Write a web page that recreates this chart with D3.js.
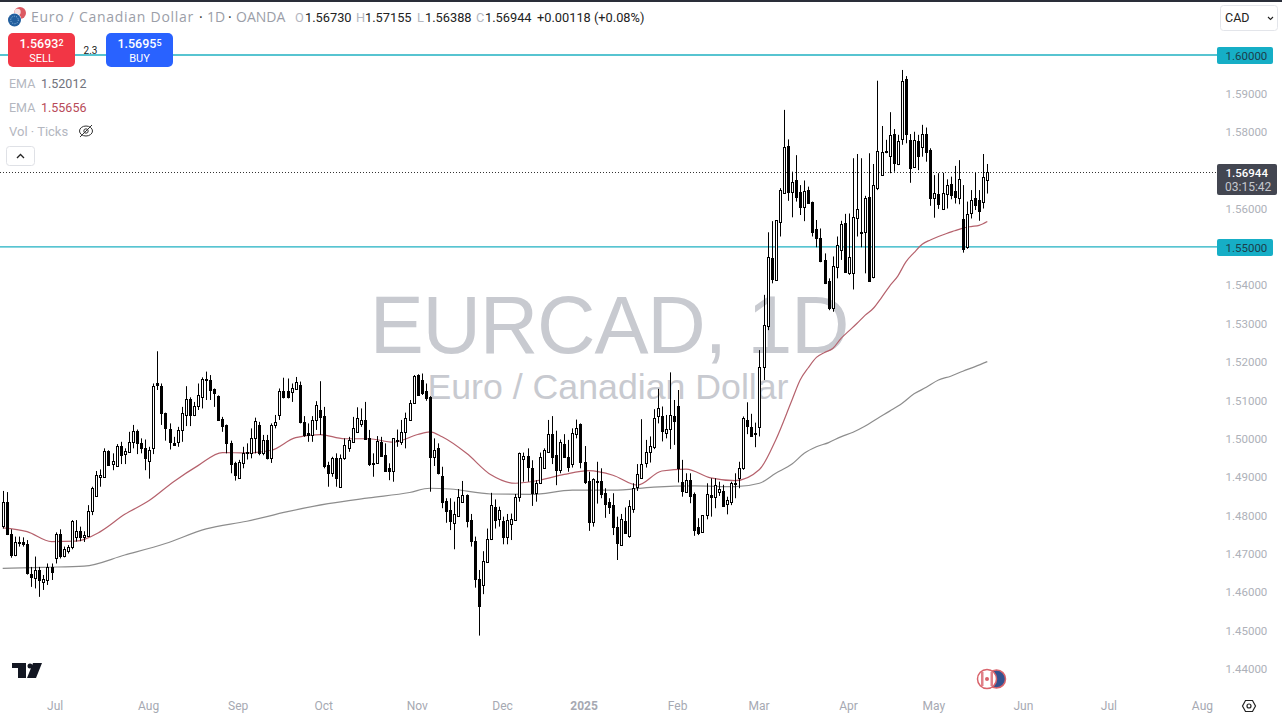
<!DOCTYPE html>
<html>
<head>
<meta charset="utf-8">
<title>EURCAD 1D</title>
<script src="https://cdn.jsdelivr.net/npm/d3@7"></script>
<style>
    html, body { margin: 0; padding: 0; background: #fff; }
    svg { display: block; }
    text { font-family: Roboto, "Liberation Sans", sans-serif; }
</style>
</head>
<body>
<svg id="drawing_region"></svg>
<script>
// daily bars
const opens = [
1.4772,1.4834,1.4752,1.4697,1.4731,1.4731,1.4725,1.4647,1.4636,1.4658,
1.4628,1.4633,1.4665,1.4688,1.4752,1.4694,1.4708,1.4717,1.4743,1.4759,
1.4745,1.4746,1.4812,1.4851,1.4901,1.4901,1.4968,1.4935,1.4930,1.4981,
1.4959,1.4966,1.4992,1.5021,1.4989,1.4977,1.4943,1.4975,1.5144,1.5137,
1.5066,1.5026,1.4990,1.4992,1.5023,1.5061,1.5104,1.5062,1.5085,1.5109,
1.5155,1.5153,1.5129,1.5111,1.5051,1.5036,1.4989,1.4936,1.4898,1.4936,
1.4964,1.4964,1.5001,1.5037,1.4962,1.4998,1.4949,1.5037,1.5062,1.5124,
1.5124,1.5121,1.5129,1.5140,1.5044,1.5014,1.5010,1.5050,1.5075,1.5059,
1.4931,1.4911,1.4949,1.4875,1.4949,1.4977,1.4992,1.5018,1.5038,1.5049,
1.5003,1.4938,1.4937,1.4991,1.4957,1.4923,1.4917,1.4997,1.4991,1.5017,
1.5049,1.5092,1.5166,1.5153,1.5124,1.5108,1.4953,1.4975,1.4903,1.4837,
1.4814,1.4781,1.4800,1.4834,1.4853,1.4787,1.4733,1.4634,1.4619,1.4678,
1.4739,1.4823,1.4790,1.4785,1.4745,1.4778,1.4788,1.4849,1.4946,1.4955,
1.4923,1.4858,1.4884,1.4925,1.4966,1.5012,1.4957,1.4918,1.4986,1.4953,
1.4934,1.5012,1.5038,1.4939,1.4889,1.4784,1.4891,1.4890,1.4859,1.4834,
1.4827,1.4770,1.4724,1.4785,1.4747,1.4817,1.4873,1.4899,1.4937,1.4966,
1.4979,1.5058,1.5058,1.5016,1.5025,1.5059,1.5085,1.4886,1.4862,1.4893,
1.4856,1.4771,1.4758,1.4801,1.4853,1.4849,1.4860,1.4864,1.4829,1.4834,
1.4882,1.4899,1.4925,1.5049,1.5030,1.5014,1.5030,1.5186,1.5294,1.5470,
1.5414,1.5566,1.5641,1.5763,1.5644,1.5674,1.5642,1.5605,1.5648,1.5616,
1.5546,1.5522,1.5466,1.5412,1.5342,1.5447,1.5492,1.5561,1.5431,1.5431,
1.5574,1.5540,1.5538,1.5629,1.5422,1.5653,1.5687,1.5746,1.5738,1.5793,
1.5716,1.5782,1.5937,1.5779,1.5709,1.5776,1.5759,1.5793,1.5752,1.5628,
1.5637,1.5598,1.5637,1.5663,1.5646,1.5627,1.5573,1.5499,1.5589,1.5627,
1.5622,1.5618,1.5673];
const highs = [
1.4864,1.4861,1.4764,1.4745,1.4745,1.4743,1.4736,1.4666,1.4693,1.4666,
1.4645,1.4675,1.4675,1.4756,1.4764,1.4719,1.4723,1.4788,1.4788,1.4771,
1.4759,1.4827,1.4875,1.4916,1.4920,1.4975,1.4970,1.4962,1.4986,1.4992,
1.4975,1.5018,1.5036,1.5024,1.5001,1.4998,1.4979,1.5144,1.5228,1.5144,
1.5068,1.5040,1.5005,1.5031,1.5083,1.5137,1.5108,1.5096,1.5144,1.5160,
1.5175,1.5166,1.5131,1.5113,1.5057,1.5037,1.4995,1.4940,1.4945,1.4979,
1.4988,1.5027,1.5055,1.5044,1.5010,1.5010,1.5040,1.5062,1.5131,1.5159,
1.5157,1.5144,1.5161,1.5149,1.5059,1.5040,1.5059,1.5098,1.5150,1.5083,
1.4940,1.4953,1.4962,1.4959,1.5001,1.5005,1.5057,1.5082,1.5079,1.5096,
1.5023,1.4962,1.5007,1.5005,1.4988,1.4936,1.5001,1.5024,1.5049,1.5068,
1.5101,1.5166,1.5168,1.5170,1.5144,1.5111,1.5001,1.4988,1.4927,1.4845,
1.4845,1.4836,1.4869,1.4890,1.4855,1.4804,1.4745,1.4658,1.4707,1.4766,
1.4859,1.4842,1.4823,1.4797,1.4804,1.4805,1.4856,1.4964,1.4964,1.4975,
1.4944,1.4892,1.4964,1.4975,1.5049,1.5059,1.5021,1.4998,1.5012,1.4997,
1.5027,1.5050,1.5040,1.4981,1.4914,1.4897,1.4940,1.4923,1.4871,1.4845,
1.4858,1.4797,1.4804,1.4821,1.4840,1.4884,1.4934,1.5051,1.4997,1.5006,
1.5077,1.5130,1.5084,1.5062,1.5173,1.5101,1.5127,1.4945,1.4910,1.4910,
1.4860,1.4793,1.4801,1.4884,1.4897,1.4897,1.4888,1.4880,1.4849,1.4888,
1.4910,1.4940,1.5058,1.5095,1.5065,1.5042,1.5231,1.5375,1.5538,1.5567,
1.5570,1.5653,1.5857,1.5780,1.5696,1.5739,1.5661,1.5673,1.5657,1.5618,
1.5570,1.5548,1.5483,1.5418,1.5475,1.5527,1.5568,1.5586,1.5587,1.5731,
1.5742,1.5731,1.5633,1.5744,1.5716,1.5933,1.5815,1.5779,1.5851,1.5807,
1.5792,1.5961,1.5945,1.5794,1.5800,1.5792,1.5818,1.5811,1.5757,1.5687,
1.5692,1.5693,1.5676,1.5683,1.5711,1.5726,1.5661,1.5618,1.5648,1.5693,
1.5648,1.5742,1.5716];
const lows = [
1.4766,1.4749,1.4690,1.4694,1.4719,1.4719,1.4646,1.4614,1.4610,1.4588,
1.4606,1.4619,1.4632,1.4675,1.4688,1.4691,1.4701,1.4712,1.4732,1.4733,
1.4731,1.4745,1.4801,1.4849,1.4875,1.4901,1.4929,1.4918,1.4929,1.4934,
1.4934,1.4964,1.4975,1.4960,1.4962,1.4918,1.4896,1.4960,1.5127,1.5036,
1.4995,1.4972,1.4983,1.4979,1.4992,1.5033,1.5033,1.5059,1.5075,1.5079,
1.5101,1.5101,1.5083,1.5047,1.5018,1.4962,1.4910,1.4891,1.4897,1.4923,
1.4946,1.4949,1.4962,1.4957,1.4957,1.4946,1.4937,1.5027,1.5049,1.5105,
1.5105,1.5096,1.5127,1.5040,1.5005,1.4992,1.4992,1.5023,1.5010,1.4923,
1.4875,1.4901,1.4875,1.4875,1.4945,1.4966,1.4992,1.5016,1.5031,1.4998,
1.4929,1.4901,1.4936,1.4955,1.4914,1.4892,1.4888,1.4979,1.4984,1.4975,
1.5049,1.5092,1.5114,1.5114,1.5099,1.4862,1.4929,1.4907,1.4819,1.4781,
1.4762,1.4712,1.4797,1.4833,1.4769,1.4719,1.4612,1.4487,1.4595,1.4677,
1.4736,1.4766,1.4771,1.4725,1.4725,1.4736,1.4788,1.4836,1.4888,1.4888,
1.4825,1.4836,1.4882,1.4925,1.4966,1.4934,1.4879,1.4910,1.4951,1.4914,
1.4925,1.5001,1.4923,1.4882,1.4760,1.4771,1.4831,1.4845,1.4794,1.4804,
1.4749,1.4684,1.4722,1.4753,1.4742,1.4807,1.4864,1.4899,1.4925,1.4938,
1.4973,1.5040,1.4993,1.5001,1.4973,1.4984,1.4886,1.4849,1.4860,1.4832,
1.4747,1.4749,1.4755,1.4790,1.4797,1.4819,1.4851,1.4825,1.4803,1.4827,
1.4845,1.4871,1.4919,1.5012,1.5006,1.4978,1.5006,1.5153,1.5283,1.5405,
1.5412,1.5527,1.5640,1.5620,1.5577,1.5618,1.5583,1.5567,1.5613,1.5527,
1.5499,1.5460,1.5403,1.5335,1.5331,1.5418,1.5466,1.5433,1.5427,1.5389,
1.5527,1.5499,1.5431,1.5409,1.5418,1.5648,1.5685,1.5744,1.5692,1.5696,
1.5713,1.5766,1.5770,1.5667,1.5707,1.5700,1.5735,1.5722,1.5607,1.5576,
1.5599,1.5596,1.5600,1.5624,1.5613,1.5611,1.5485,1.5495,1.5574,1.5596,
1.5568,1.5600,1.5639];
const closes = [
1.4834,1.4751,1.4697,1.4731,1.4732,1.4725,1.4649,1.4641,1.4659,1.4633,
1.4634,1.4665,1.4653,1.4752,1.4694,1.4714,1.4717,1.4785,1.4759,1.4743,
1.4750,1.4813,1.4871,1.4905,1.4905,1.4968,1.4931,1.4942,1.4981,1.4957,
1.4967,1.4991,1.5019,1.4988,1.4977,1.4949,1.4971,1.5137,1.5140,1.5068,
1.5027,1.4992,1.4984,1.5023,1.5066,1.5103,1.5061,1.5085,1.5114,1.5157,
1.5157,1.5127,1.5120,1.5049,1.5033,1.4990,1.4934,1.4905,1.4940,1.4962,
1.4966,1.5001,1.5045,1.4962,1.4997,1.4949,1.5037,1.5044,1.5124,1.5109,
1.5108,1.5131,1.5147,1.5044,1.5011,1.5010,1.5049,1.5088,1.5057,1.4929,
1.4911,1.4949,1.4898,1.4949,1.4985,1.4998,1.5027,1.5054,1.5049,1.4999,
1.4934,1.4936,1.4995,1.4956,1.4917,1.4917,1.5001,1.4998,1.5017,1.5054,
1.5092,1.5163,1.5114,1.5118,1.5107,1.4953,1.4971,1.4910,1.4836,1.4812,
1.4785,1.4804,1.4847,1.4853,1.4786,1.4733,1.4635,1.4565,1.4681,1.4740,
1.4827,1.4788,1.4814,1.4745,1.4788,1.4790,1.4847,1.4962,1.4955,1.4927,
1.4858,1.4885,1.4953,1.4971,1.5012,1.4953,1.4918,1.4991,1.4953,1.4927,
1.5016,1.5027,1.4940,1.4888,1.4784,1.4895,1.4890,1.4856,1.4831,1.4823,
1.4771,1.4729,1.4790,1.4755,1.4824,1.4871,1.4907,1.4933,1.4966,1.4981,
1.5053,1.5079,1.5021,1.5025,1.5062,1.5045,1.4925,1.4865,1.4893,1.4851,
1.4762,1.4754,1.4801,1.4855,1.4849,1.4880,1.4868,1.4826,1.4840,1.4884,
1.4885,1.4925,1.5053,1.5033,1.5007,1.5012,1.5186,1.5296,1.5473,1.5415,
1.5570,1.5648,1.5759,1.5644,1.5670,1.5631,1.5605,1.5646,1.5615,1.5540,
1.5524,1.5462,1.5407,1.5340,1.5450,1.5504,1.5560,1.5435,1.5473,1.5577,
1.5598,1.5538,1.5627,1.5412,1.5660,1.5749,1.5746,1.5750,1.5791,1.5718,
1.5776,1.5931,1.5794,1.5706,1.5779,1.5738,1.5794,1.5747,1.5628,1.5640,
1.5612,1.5640,1.5661,1.5635,1.5631,1.5677,1.5494,1.5586,1.5622,1.5609,
1.5594,1.5681,1.5694];

// moving averages, read at these bar numbers
const fastBars = [0,6,12,18,24,30,36,42,48,54,60,66,72,78,84,90,96,102,105,108,114,120,126,132,138,144,150,156,162,168,174,180,186,190,194,196,198,200,202,204,206,208,210,212,214,216,218,220,222,224,226,228,230,232,234,236,238,240,242];
const fastEma = [1.4768,1.4758,1.4732,1.4733,1.4758,1.4803,1.4839,1.4888,1.4930,1.4964,1.4963,1.4970,1.5003,1.5011,1.5000,1.5000,1.4991,1.5011,1.5018,1.5005,1.4962,1.4906,1.4884,1.4892,1.4907,1.4917,1.4905,1.4879,1.4916,1.4921,1.4898,1.4891,1.4920,1.4997,1.5101,1.5153,1.5185,1.5212,1.5225,1.5235,1.5261,1.5281,1.5301,1.5322,1.5340,1.5368,1.5398,1.5424,1.5461,1.5485,1.5507,1.5518,1.5527,1.5535,1.5542,1.5549,1.5553,1.5556,1.5566];
const slowBars = [0,10,20,30,40,50,60,70,80,90,100,105,110,120,130,140,150,160,170,180,186,190,194,197,200,203,206,209,212,215,218,221,224,227,230,233,236,239,242];
const slowEma = [1.4662,1.4665,1.4668,1.4697,1.4727,1.4765,1.4785,1.4810,1.4831,1.4846,1.4860,1.4871,1.4869,1.4856,1.4855,1.4866,1.4866,1.4874,1.4877,1.4875,1.4884,1.4910,1.4934,1.4962,1.4979,1.4990,1.5005,1.5017,1.5033,1.5053,1.5072,1.5092,1.5117,1.5134,1.5153,1.5163,1.5176,1.5188,1.5201];

const monthBars = [13,36,58,79,102,123,143,166,186,208,229,251,272,295];
const monthLabels = ["Jul","Aug","Sep","Oct","Nov","Dec","2025","Feb","Mar","Apr","May","Jun","Jul","Aug"];
const priceTicks = [1.44,1.45,1.46,1.47,1.48,1.49,1.50,1.51,1.52,1.53,1.54,1.56,1.58,1.59];
const levels = [1.60, 1.55];
const lastClose = 1.56944;

const config = {
    width: 1282,
    height: 720,
    plotRight: 1217
};

const svg = d3.select('#drawing_region')
    .attr('width', config.width)
    .attr('height', config.height);

const xscale = d3.scaleLinear().domain([0, 242]).range([2.7, 987.3]);
const yscale = d3.scaleLinear().domain([1.44, 1.60]).range([669, 55]);

// top dark edge
svg.append('rect').attr('width', config.width).attr('height', 2).attr('fill', '#2a2e39');

// watermark goes under everything
svg.append('text')
    .attr('x', 609).attr('y', 353)
    .attr('text-anchor', 'middle')
    .style('font-family', '"Liberation Sans"')
    .style('font-size', '81px')
    .style('letter-spacing', '-1.2px')
    .attr('fill', '#c8cad0')
    .text('EURCAD, 1D');
svg.append('text')
    .attr('x', 608).attr('y', 399)
    .attr('text-anchor', 'middle')
    .style('font-family', '"Liberation Sans"')
    .style('font-size', '35.7px')
    .attr('fill', '#c8cad0')
    .text('Euro / Canadian Dollar');

// levels
svg.selectAll('.level')
    .data(levels)
    .join('line')
    .attr('class', 'level')
    .attr('x1', 0).attr('x2', config.plotRight)
    .attr('y1', d => yscale(d))
    .attr('y2', d => yscale(d))
    .style('stroke', '#1fb0c2')
    .style('stroke-width', 1.3);

svg.append('line')
    .attr('x1', 0).attr('x2', config.plotRight)
    .attr('y1', Math.round(yscale(lastClose)) + 0.5)
    .attr('y2', Math.round(yscale(lastClose)) + 0.5)
    .attr('stroke', '#333')
    .attr('stroke-dasharray', '1 2');

// moving averages
const line = d3.line().x(d => xscale(d[0])).y(d => yscale(d[1])).curve(d3.curveMonotoneX);

svg.append('path')
    .datum(d3.zip(slowBars, slowEma))
    .attr('fill', 'none')
    .attr('stroke', '#8d8d8d')
    .attr('stroke-width', 1.2)
    .attr('d', line);
svg.append('path')
    .datum(d3.zip(fastBars, fastEma))
    .attr('fill', 'none')
    .attr('stroke', '#b5616c')
    .attr('stroke-width', 1.2)
    .attr('d', line);

// candles
const bars = opens.map((o, i) => ({ i: i, o: o, h: highs[i], l: lows[i], c: closes[i] }));
const cx = d => Math.round(xscale(d.i));

svg.append('g').selectAll('line')
    .data(bars)
    .join('line')
    .attr('x1', d => cx(d) + 0.5).attr('x2', d => cx(d) + 0.5)
    .attr('y1', d => yscale(d.h)).attr('y2', d => yscale(d.l))
    .attr('stroke', '#000');

svg.append('g').selectAll('rect')
    .data(bars)
    .join('rect')
    .attr('x', d => cx(d) - 1 + 0.5)
    .attr('width', 2)
    .attr('y', d => Math.round(yscale(Math.max(d.o, d.c))) + 0.5)
    .attr('height', d => Math.max(1, Math.round(yscale(Math.min(d.o, d.c))) - Math.round(yscale(Math.max(d.o, d.c)))))
    .attr('fill', d => d.c >= d.o ? '#fff' : '#000')
    .attr('stroke', '#000');

// price axis
const yaxis = d3.axisRight(yscale)
    .tickValues(priceTicks)
    .tickFormat(d3.format('.5f'))
    .tickSize(0)
    .tickPadding(0);
const yaxis_group = svg.append('g')
    .attr('transform', 'translate(1225.5, 0)')
    .call(yaxis);
yaxis_group.select('.domain').remove();
yaxis_group.selectAll('text')
    .attr('fill', '#aeb1b9')
    .style('font-size', '11.5px');

// level labels on the axis
const levelTags = svg.append('g').selectAll('g')
    .data(levels)
    .join('g')
    .attr('transform', d => `translate(1217, ${Math.round(yscale(d)) - 8})`);
levelTags.append('rect')
    .attr('width', 56).attr('height', 17).attr('rx', 2)
    .attr('fill', '#16aec6');
levelTags.append('text')
    .attr('x', 8.5).attr('y', 13)
    .attr('fill', '#1c3f4c')
    .style('font-size', '11.5px')
    .text(d => d3.format('.5f')(d));

// last price tag
const lastTag = svg.append('g').attr('transform', 'translate(1217, 164)');
lastTag.append('rect').attr('width', 60).attr('height', 31).attr('rx', 2).attr('fill', '#434651');
lastTag.append('text').attr('x', 8.5).attr('y', 13).attr('fill', '#fff')
    .style('font-size', '11.5px').style('font-weight', 500).text(d3.format('.5f')(lastClose));
lastTag.append('text').attr('x', 8).attr('y', 27).attr('fill', '#c6c8ce')
    .style('font-size', '12px').text('03:15:42');

// month axis
const xaxis = d3.axisBottom(xscale)
    .tickValues(monthBars)
    .tickFormat((d, i) => monthLabels[i])
    .tickSize(0)
    .tickPadding(0);
const xaxis_group = svg.append('g')
    .attr('transform', 'translate(-1, 701)')
    .call(xaxis);
xaxis_group.select('.domain').remove();
xaxis_group.selectAll('text')
    .attr('fill', '#a6a9b2')
    .style('font-size', '12px')
    .style('font-weight', d => d === 143 ? 700 : 400);

// header line
const header = svg.append('text').attr('y', 22)
    .style('font-family', '"Open Sans"').style('font-size', '14px');
[['Euro / Canadian Dollar', '#9b9ea8', 31, '0.72px'], ['·', '#333', 199, '0'], ['1D', '#9b9ea8', 207, '0'], ['·', '#333', 228, '0'], ['OANDA', '#9b9ea8', 236, '0']]
    .forEach(p => header.append('tspan').attr('x', p[2]).attr('fill', p[1]).style('letter-spacing', p[3]).text(p[0]));

const ohlc = svg.append('text').attr('y', 22).style('font-size', '12.8px');
[['O', 1, 295], ['1.56730', 0, 305], ['H', 1, 356], ['1.57155', 0, 365], ['L', 1, 417], ['1.56388', 0, 425], ['C', 1, 476], ['1.56944', 0, 485], ['+0.00118 (+0.08%)', 0, 537]]
    .forEach(p => ohlc.append('tspan').attr('x', p[2]).attr('fill', p[1] ? '#b4b7bf' : '#222').text(p[0]));

// symbol icons
const symbol = svg.append('g');
symbol.append('circle').attr('cx', 20).attr('cy', 13).attr('r', 6).attr('fill', '#dc5a62');
symbol.append('circle').attr('cx', 17.5).attr('cy', 12).attr('r', 3.2).attr('fill', '#f6dfe0');
symbol.append('circle').attr('cx', 14.5).attr('cy', 20).attr('r', 7).attr('fill', '#fff');
symbol.append('circle').attr('cx', 14.5).attr('cy', 20).attr('r', 6.5).attr('fill', '#235f9e');
symbol.append('circle').attr('cx', 14.5).attr('cy', 20).attr('r', 3.8)
    .attr('fill', 'none').attr('stroke', '#9cc3e6').attr('stroke-dasharray', '1 1.4');

// sell and buy
const buttons = svg.append('g');
[{x: 8, fill: '#f23645', big: '1.5693', small: '2', label: 'SELL'},
 {x: 106, fill: '#2962ff', big: '1.5695', small: '5', label: 'BUY'}].forEach(b => {
    buttons.append('rect').attr('x', b.x).attr('y', 33).attr('width', 67).attr('height', 34).attr('rx', 5).attr('fill', b.fill);
    const t = buttons.append('text').attr('x', b.x + 33.5).attr('y', 48).attr('text-anchor', 'middle')
        .attr('fill', '#fff').style('font-size', '12.5px').style('font-weight', 500);
    t.append('tspan').text(b.big);
    t.append('tspan').style('font-size', '9px').attr('dy', -2).text(b.small);
    buttons.append('text').attr('x', b.x + 33.5).attr('y', 62).attr('text-anchor', 'middle')
        .attr('fill', '#fff').style('font-size', '11px').text(b.label);
});
svg.append('text').attr('x', 90.5).attr('y', 54).attr('text-anchor', 'middle')
    .attr('fill', '#222').style('font-size', '10px').text('2.3');

// indicator legend
svg.append('text').attr('x', 9).attr('y', 88).attr('fill', '#b4b7bf').style('font-size', '12.5px').text('EMA');
svg.append('text').attr('x', 41).attr('y', 88).attr('fill', '#70737c').style('font-size', '12.5px').text('1.52012');
svg.append('text').attr('x', 9).attr('y', 112).attr('fill', '#b4b7bf').style('font-size', '12.5px').text('EMA');
svg.append('text').attr('x', 41).attr('y', 112).attr('fill', '#b84a58').style('font-size', '12.5px').text('1.55656');
svg.append('text').attr('x', 9).attr('y', 136).attr('fill', '#b4b7bf').style('font-size', '13px').text('Vol · Ticks');

// eye off icon
const eye = svg.append('g').attr('fill', 'none').attr('stroke', '#333').attr('stroke-width', 1);
eye.append('ellipse').attr('cx', 86).attr('cy', 131).attr('rx', 6.5).attr('ry', 5);
eye.append('circle').attr('cx', 86).attr('cy', 131).attr('r', 2.2);
eye.append('path').attr('d', 'M80 137L92 125');

// collapse button
svg.append('rect').attr('x', 6.5).attr('y', 146.5).attr('width', 28).attr('height', 19).attr('rx', 3)
    .attr('fill', '#fff').attr('stroke', '#dfe1e6');
svg.append('path').attr('d', 'M17 158L20.5 154.5L24 158').attr('fill', 'none').attr('stroke', '#222').attr('stroke-width', 1.3);

// currency box
svg.append('rect').attr('x', 1220.5).attr('y', 5.5).attr('width', 57).attr('height', 25).attr('rx', 3)
    .attr('fill', '#fff').attr('stroke', '#e3e5ea');
svg.append('text').attr('x', 1225).attr('y', 22).attr('fill', '#222').style('font-size', '12.5px').text('CAD');
svg.append('path').attr('d', 'M1268 17L1270.5 19.5L1273 17').attr('fill', 'none').attr('stroke', '#222').attr('stroke-width', 1.1);

// tradingview logo
svg.append('path').attr('fill', '#131722')
    .attr('d', 'M12 663H26V678H18V668H12Z M33 663H42L36 678H27Z');
svg.append('circle').attr('cx', 30).attr('cy', 666).attr('r', 2.5).attr('fill', '#131722');

// flags at the end of the chart
const flags = svg.append('g');
flags.append('circle').attr('cx', 996.5).attr('cy', 679).attr('r', 9).attr('fill', '#33528f').attr('stroke', '#d9636b').attr('stroke-width', 1.5);
flags.append('circle').attr('cx', 987).attr('cy', 679).attr('r', 9.5).attr('fill', '#fff').attr('stroke', '#d9636b').attr('stroke-width', 1.5);
flags.append('rect').attr('x', 981).attr('y', 672).attr('width', 2.5).attr('height', 14).attr('fill', '#e08088');
flags.append('rect').attr('x', 990.5).attr('y', 672).attr('width', 2.5).attr('height', 14).attr('fill', '#e08088');
flags.append('circle').attr('cx', 987).attr('cy', 679).attr('r', 2).attr('fill', '#d9636b');

// settings hexagon
const hex = svg.append('g').attr('fill', 'none').attr('stroke', '#222').attr('stroke-width', 1.2);
hex.append('path').attr('d', 'M1242.5 706L1245.5 700.5H1252.5L1255.5 706L1252.5 711.5H1245.5Z');
hex.append('circle').attr('cx', 1249).attr('cy', 706).attr('r', 2);
</script>
</body>
</html>
